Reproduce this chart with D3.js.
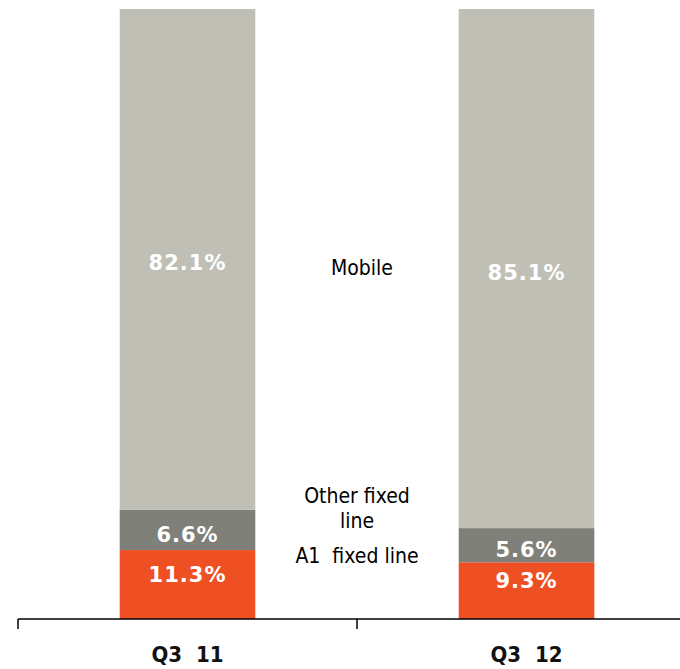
<!DOCTYPE html>
<html>
<head>
<meta charset="utf-8">
<script src="https://cdn.jsdelivr.net/npm/d3@7"></script>
<style>
  html, body { margin: 0; padding: 0; background: #ffffff; }
  svg { display: block; }
</style>
</head>
<body>
<svg id="chart" width="680" height="669"></svg>
<script>
// Revenue mix by segment, share of total (%)
const categories = ["Q3 11", "Q3 12"];
const seriesNames = ["A1 fixed line", "Other fixed line", "Mobile"];
const a1Fixed = [11.3, 9.3];
const otherFixed = [6.6, 5.6];
const mobile = [82.1, 85.1];
const valueLabels = [
  ["11.3%", "9.3%"],
  ["6.6%", "5.6%"],
  ["82.1%", "85.1%"]
];

const colors = ["#ef5023", "#7f8079", "#bfbfb6"];
const labelShift = [-3, 12, 11]; // baseline offset from segment middle, per series

const svg = d3.select("#chart");
const width = 680, height = 669;

const x = d3.scaleBand().domain(categories).range([18, 696]).padding(0);
const y = d3.scaleLinear().domain([0, 100]).range([619, 9]);
const barW = x.bandwidth() * 0.4;

const rows = categories.map((c, i) => ({
  cat: c,
  "A1 fixed line": a1Fixed[i],
  "Other fixed line": otherFixed[i],
  "Mobile": mobile[i]
}));
const stacked = d3.stack().keys(seriesNames)(rows);

const g = svg.append("g");

stacked.forEach((layer, si) => {
  g.selectAll(null)
    .data(layer)
    .enter()
    .append("rect")
    .attr("x", d => x(d.data.cat) + (x.bandwidth() - barW) / 2)
    .attr("y", d => y(d[1]))
    .attr("width", barW)
    .attr("height", d => y(d[0]) - y(d[1]))
    .attr("fill", colors[si]);

  g.selectAll(null)
    .data(layer)
    .enter()
    .append("text")
    .attr("x", d => x(d.data.cat) + x.bandwidth() / 2)
    .attr("y", d => (y(d[0]) + y(d[1])) / 2 + labelShift[si])
    .attr("text-anchor", "middle")
    .attr("fill", "#ffffff")
    .attr("font-family", "'DejaVu Sans', sans-serif")
    .attr("font-weight", "bold")
    .attr("font-size", "21px")
    .attr("letter-spacing", "1px")
    .text((d, i) => valueLabels[si][i]);
});

// Category axis with ticks at band edges
const axisY = y(0);
svg.append("line")
  .attr("x1", x.range()[0]).attr("x2", width + 20)
  .attr("y1", axisY).attr("y2", axisY)
  .attr("stroke", "#000").attr("stroke-width", 1.5);

const edges = categories.map(c => x(c)).concat([x.range()[1]]);
svg.selectAll(null)
  .data(edges)
  .enter()
  .append("line")
  .attr("x1", d => d).attr("x2", d => d)
  .attr("y1", axisY).attr("y2", axisY + 10)
  .attr("stroke", "#000").attr("stroke-width", 1.5);

svg.selectAll(null)
  .data(categories)
  .enter()
  .append("text")
  .attr("x", d => x(d) + x.bandwidth() / 2)
  .attr("y", 662)
  .attr("text-anchor", "middle")
  .attr("font-family", "'DejaVu Sans Condensed', 'DejaVu Sans', sans-serif")
  .attr("font-weight", "bold")
  .attr("font-size", "22px")
  .attr("fill", "#111")
  .attr("xml:space", "preserve")
  .text(d => d.replace(" ", "  "));

// Series names placed between the two bars
const midX = (x(categories[0]) + x.bandwidth() * 0.7 + x(categories[1]) + x.bandwidth() * 0.3) / 2;
const legendItems = [
  { lines: ["Mobile"], y: 275, dx: 5 },
  { lines: ["Other fixed", "line"], y: 503, dx: 0 },
  { lines: ["A1  fixed line"], y: 563, dx: 0 }
];
legendItems.forEach(item => {
  const t = svg.append("text")
    .attr("text-anchor", "middle")
    .attr("font-family", "'DejaVu Sans Condensed', 'DejaVu Sans', sans-serif")
    .attr("font-size", "21px")
    .attr("fill", "#000")
    .attr("xml:space", "preserve");
  item.lines.forEach((ln, k) => {
    t.append("tspan")
      .attr("x", midX + item.dx)
      .attr("y", item.y + k * 25)
      .text(ln);
  });
});
</script>
</body>
</html>
